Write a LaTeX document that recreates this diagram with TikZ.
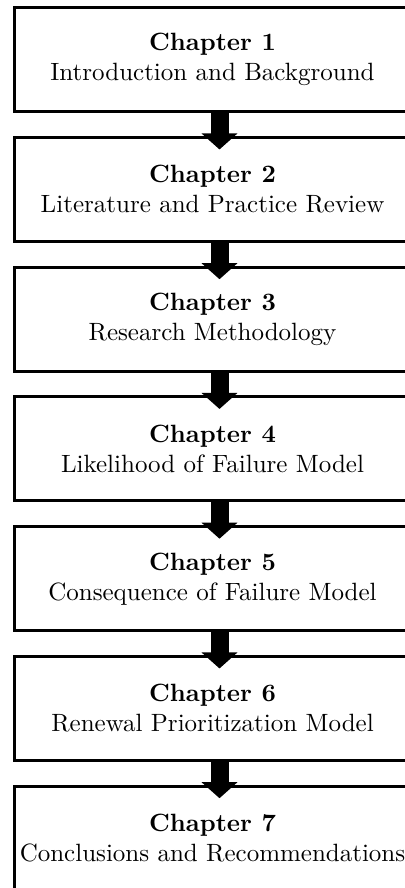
\documentclass[tikz,border=0pt]{standalone}
\usetikzlibrary{positioning,arrows.meta}

\tikzset{
  chapbox/.style={draw, line width=1.2pt, outer sep=0pt, inner sep=0pt,
    minimum width=158.4pt, minimum height=41.6pt, align=center},
  chaparrow/.style={line width=7.2pt, -{Triangle[width=14pt,length=6.4pt]}},
}

\begin{document}
\begin{tikzpicture}[x=0.4pt, y=0.4pt, node distance=10.3pt]
\useasboundingbox (0,0) rectangle (405,-888);

% chapter boxes
\node[chapbox, anchor=north west] (ch1) at (14.5,-7.7)
  {\textbf{Chapter 1}\\Introduction and Background};
\node[chapbox, below=of ch1] (ch2) {\textbf{Chapter 2}\\Literature and Practice Review};
\node[chapbox, below=of ch2] (ch3) {\textbf{Chapter 3}\\Research Methodology};
\node[chapbox, below=of ch3] (ch4) {\textbf{Chapter 4}\\Likelihood of Failure Model};
\node[chapbox, below=of ch4] (ch5) {\textbf{Chapter 5}\\Consequence of Failure Model};
\node[chapbox, below=of ch5] (ch6) {\textbf{Chapter 6}\\Renewal Prioritization Model};
\node[chapbox, below=of ch6] (ch7) {\textbf{Chapter 7}\\Conclusions and Recommendations};

% arrows
\foreach \a/\b in {ch1/ch2, ch2/ch3, ch3/ch4, ch4/ch5, ch5/ch6, ch6/ch7}
  \draw[chaparrow] ([xshift=2.8pt]\a.south) -- ([xshift=2.8pt, yshift=-4.8pt]\b.north);
\end{tikzpicture}
\end{document}
